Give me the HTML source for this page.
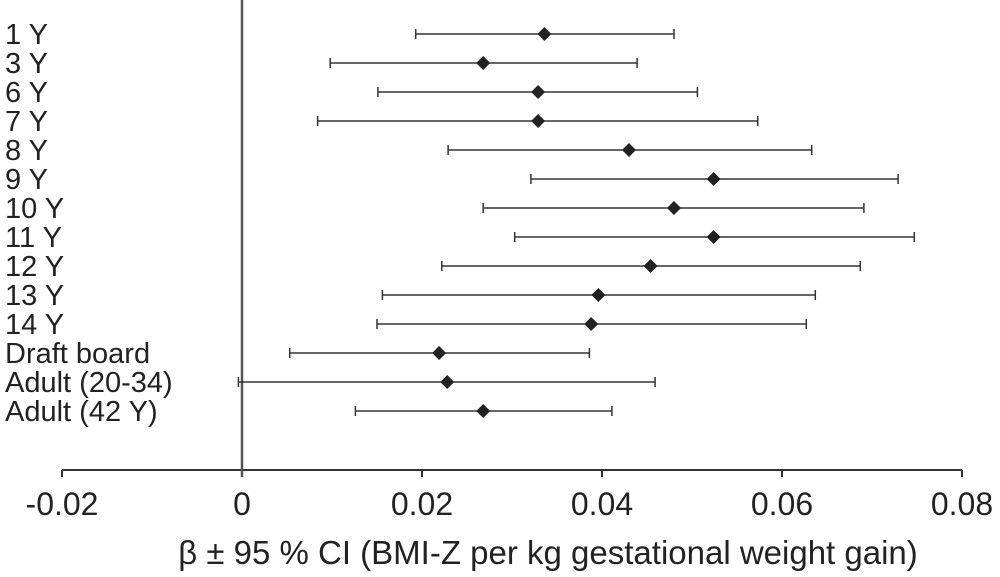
<!DOCTYPE html>
<html><head><meta charset="utf-8"><style>
body{margin:0;background:#fff}
svg{display:block;font-family:"Liberation Sans",Arial,sans-serif}
</style></head><body>
<svg id="c" width="1000" height="577"></svg>
<script>
const labels=["1 Y","3 Y","6 Y","7 Y","8 Y","9 Y","10 Y","11 Y","12 Y","13 Y","14 Y","Draft board","Adult (20-34)","Adult (42 Y)"];
const est=[0.0336,0.0268,0.0329,0.0329,0.0430,0.0524,0.0480,0.0524,0.0454,0.0396,0.0388,0.0219,0.0228,0.0268];
const lower=[0.0193,0.0098,0.0151,0.0084,0.0229,0.0321,0.0268,0.0303,0.0222,0.0156,0.0150,0.0053,-0.0004,0.0126];
const upper=[0.0480,0.0439,0.0506,0.0573,0.0633,0.0729,0.0691,0.0747,0.0687,0.0637,0.0627,0.0386,0.0459,0.0411];
const ticks=[-0.02,0,0.02,0.04,0.06,0.08];
const tickLabels=["-0.02","0","0.02","0.04","0.06","0.08"];
const NS="http://www.w3.org/2000/svg",svg=document.getElementById('c');
const xs=v=>242+v*9000, ys=i=>34+i*29.0;
function mk(t,a,p){const e=document.createElementNS(NS,t);for(const k in a)e.setAttribute(k,a[k]);(p||svg).appendChild(e);return e;}
const ax=mk('g',{});


mk('line',{x1:xs(-0.02),x2:xs(0.08),y1:470,y2:470,stroke:'#333','stroke-width':2},ax);
ticks.forEach((t,i)=>{
 mk('line',{x1:xs(t),x2:xs(t),y1:470,y2:477,stroke:'#333','stroke-width':2},ax);
 const tx=mk('text',{x:xs(t),y:515,'text-anchor':'middle','font-size':32,fill:'#222'},ax);
 
 
 tx.textContent=tickLabels[i];
});
const z=mk('line',{x1:xs(0),x2:xs(0),y1:0,y2:477,stroke:'#555','stroke-width':2.5});


const ti=mk('text',{x:548,y:564,'text-anchor':'middle','font-size':33,fill:'#222'});


ti.textContent="β ± 95 % CI (BMI-Z per kg gestational weight gain)";
labels.forEach((l,i)=>{
 const y=ys(i);
 const g=mk('g',{});
 
 
 const t=mk('text',{x:5,y:y+10,'font-size':29,fill:'#222'},g);
 
 
 t.textContent=l;
 const a=xs(lower[i]),b=xs(upper[i]),c=xs(est[i]);
 mk('line',{x1:a,x2:b,y1:y,y2:y,stroke:'#333','stroke-width':1.5},g);
 mk('line',{x1:a,x2:a,y1:y-5,y2:y+5,stroke:'#333','stroke-width':1.5},g);
 mk('line',{x1:b,x2:b,y1:y-5,y2:y+5,stroke:'#333','stroke-width':1.5},g);
 const d=mk('polygon',{points:`${c},${y-7} ${c+7},${y} ${c},${y+7} ${c-7},${y}`,fill:'#222'},g);
 
 
});
</script>
</body></html>
